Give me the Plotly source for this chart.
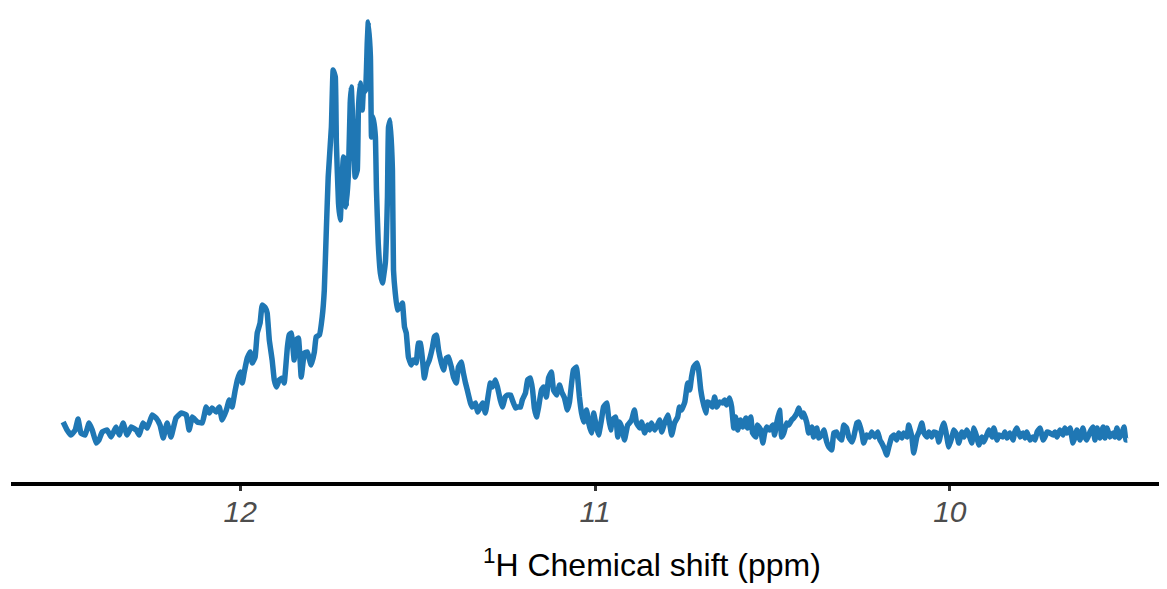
import plotly.graph_objects as go

# 1H chemical shift (ppm)
shift_ppm = [
    12.499, 12.488, 12.477, 12.465, 12.457, 12.449, 12.437, 12.426, 12.417, 12.406,
    12.398, 12.389, 12.375, 12.364, 12.350, 12.341, 12.330, 12.319, 12.307, 12.293,
    12.285, 12.274, 12.262, 12.248, 12.237, 12.226, 12.217, 12.206, 12.195, 12.181,
    12.166, 12.152, 12.144, 12.135, 12.121,
    12.107, 12.096, 12.087, 12.079, 12.068, 12.059, 12.051, 12.039, 12.031, 12.023,
    12.014, 12.008, 12.000, 11.994, 11.989, 11.980, 11.972, 11.966, 11.958, 11.952,
    11.944, 11.938, 11.929, 11.924, 11.918, 11.910, 11.904, 11.898, 11.890, 11.881,
    11.876, 11.867, 11.862, 11.856, 11.848, 11.842, 11.836, 11.828, 11.819, 11.811,
    11.800, 11.791, 11.786, 11.777, 11.769, 11.763,
    11.757, 11.752, 11.743, 11.738, 11.732, 11.729, 11.723, 11.718, 11.715, 11.709,
    11.704, 11.701, 11.695, 11.690, 11.687, 11.681, 11.676, 11.670, 11.667, 11.662,
    11.656, 11.653, 11.647, 11.642, 11.639, 11.633, 11.630, 11.625, 11.619, 11.616,
    11.611, 11.605, 11.599, 11.591, 11.585, 11.582, 11.577, 11.571, 11.568, 11.563,
    11.557, 11.549, 11.543, 11.537, 11.532, 11.526, 11.518, 11.512, 11.504, 11.498,
    11.492, 11.487, 11.481, 11.475, 11.467, 11.458, 11.453, 11.447, 11.441, 11.433,
    11.427, 11.419, 11.413, 11.405, 11.399, 11.391, 11.385, 11.377, 11.371, 11.365,
    11.360, 11.351, 11.346, 11.337, 11.331, 11.323, 11.317, 11.309, 11.303, 11.295,
    11.289, 11.281, 11.275, 11.267, 11.261, 11.253, 11.247, 11.238, 11.233, 11.224,
    11.219, 11.210, 11.205, 11.196, 11.190, 11.182, 11.176, 11.171, 11.165, 11.159,
    11.151, 11.145, 11.137, 11.131, 11.123, 11.117, 11.108,
    11.100, 11.094, 11.086, 11.078, 11.072, 11.066, 11.061, 11.052, 11.049, 11.044,
    11.038, 11.032, 11.024, 11.018, 11.010, 11.004, 10.996, 10.990, 10.982, 10.976,
    10.967, 10.962, 10.956, 10.951, 10.942, 10.936, 10.931, 10.925, 10.917, 10.908,
    10.903, 10.897, 10.889, 10.883, 10.874, 10.869, 10.860, 10.852, 10.846, 10.841,
    10.832, 10.824, 10.818, 10.812, 10.804, 10.795, 10.790, 10.784, 10.776, 10.767,
    10.762, 10.756, 10.747, 10.739, 10.733, 10.728, 10.722, 10.713, 10.708, 10.702,
    10.697, 10.688, 10.683,
    10.677, 10.669, 10.663, 10.657, 10.649, 10.640, 10.635, 10.629, 10.621, 10.615,
    10.609, 10.604, 10.598, 10.590, 10.584, 10.575, 10.570, 10.561, 10.556, 10.547,
    10.542, 10.533, 10.527, 10.522, 10.516, 10.508, 10.499, 10.494, 10.488, 10.480,
    10.474, 10.468, 10.460, 10.454, 10.446, 10.440, 10.431, 10.426, 10.417, 10.412,
    10.403, 10.398, 10.389, 10.384, 10.375, 10.370, 10.361, 10.355, 10.347, 10.341,
    10.333, 10.327, 10.319, 10.313, 10.305, 10.299, 10.291, 10.285, 10.276, 10.271,
    10.262, 10.257, 10.248, 10.243, 10.234,
    10.226, 10.220, 10.211, 10.203, 10.197, 10.192, 10.183, 10.178, 10.172, 10.164,
    10.158, 10.150, 10.144, 10.135, 10.130, 10.121, 10.116, 10.107, 10.102, 10.093,
    10.087, 10.079, 10.073, 10.065, 10.059, 10.051, 10.045, 10.037, 10.031, 10.022,
    10.017, 10.011, 10.003, 9.994, 9.989, 9.980, 9.975, 9.966, 9.960, 9.952,
    9.946, 9.938, 9.932, 9.924, 9.918, 9.910, 9.904, 9.896, 9.890, 9.881,
    9.876, 9.867, 9.862,
    9.851, 9.845, 9.839, 9.831, 9.822, 9.817, 9.811, 9.802, 9.794, 9.788,
    9.783, 9.774, 9.766, 9.760, 9.754, 9.746, 9.737, 9.732, 9.726, 9.718,
    9.709, 9.704, 9.698, 9.690, 9.681, 9.676, 9.670, 9.661, 9.653, 9.647,
    9.642, 9.633, 9.625, 9.619, 9.614, 9.605, 9.597, 9.591, 9.585, 9.577,
    9.568, 9.563, 9.557, 9.549, 9.540, 9.535, 9.529, 9.523, 9.515, 9.509,
    9.504, 9.500,
]

# signal intensity (arbitrary units)
intensity = [
    60, 52, 47, 52, 63, 49, 47, 59, 52, 39,
    42, 50, 52, 45, 55, 47, 59, 47, 55, 52,
    47, 59, 54, 67, 64, 57, 44, 59, 45, 64,
    69, 67, 52, 65, 60,
    59, 75, 69, 74, 70, 75, 62, 72, 82, 75,
    92, 102, 110, 99, 109, 124, 130, 119, 125, 149,
    159, 177, 174, 169, 142, 122, 102, 95, 102, 104,
    99, 135, 147, 149, 122, 142, 144, 105, 129, 130,
    117, 130, 145, 147, 165, 192,
    255, 305, 355, 412, 405, 339, 279, 262, 285, 325,
    322, 275, 309, 379, 395, 345, 305, 312, 372, 399,
    372, 389, 392, 439, 460, 425, 345, 365, 345, 292,
    239, 209, 199, 219, 285, 355, 362, 312, 212, 189,
    172, 175, 179, 155, 149, 125, 117, 122, 119, 139,
    139, 125, 104, 115, 122, 135, 145, 147, 132, 119,
    112, 124, 125, 115, 105, 99, 115, 120, 109, 99,
    92, 79, 75, 79, 70, 75, 79, 69, 82, 99,
    95, 102, 95, 82, 75, 85, 87, 87, 82, 74,
    75, 75, 82, 89, 102, 104, 92, 74, 65, 75,
    92, 95, 85, 104, 110, 92, 87,
    97, 90, 84, 72, 80, 99, 112, 115, 105, 85,
    69, 60, 72, 59, 49, 69, 55, 47, 62, 75,
    79, 65, 52, 62, 65, 45, 60, 55, 42, 57,
    59, 62, 72, 59, 54, 60, 49, 57, 52, 59,
    52, 57, 62, 50, 59, 67, 59, 47, 59, 65,
    75, 72, 80, 99, 92, 105, 115, 119, 112, 92,
    82, 69, 80,
    79, 75, 85, 75, 80, 79, 82, 77, 84, 75,
    54, 65, 52, 62, 55, 64, 54, 65, 49, 45,
    57, 52, 39, 49, 55, 52, 57, 47, 59, 72,
    45, 49, 59, 57, 62, 64, 69, 74, 65, 69,
    59, 49, 55, 45, 54, 44, 47, 52, 40, 35,
    32, 49, 50, 45, 42, 57, 54, 45, 40, 45,
    59, 60, 49, 39, 47,
    45, 50, 45, 50, 42, 39, 32, 27, 35, 45,
    47, 42, 49, 44, 49, 45, 57, 45, 29, 45,
    50, 59, 49, 45, 50, 45, 50, 49, 40, 54,
    59, 50, 35, 45, 52, 47, 39, 50, 45, 52,
    47, 39, 54, 45, 37, 45, 40, 47, 52, 45,
    54, 42, 47,
    45, 50, 44, 49, 42, 50, 54, 45, 49, 44,
    50, 42, 45, 42, 50, 54, 42, 45, 50, 49,
    47, 50, 45, 52, 47, 54, 49, 54, 39, 45,
    52, 42, 54, 45, 42, 50, 55, 42, 54, 44,
    55, 44, 54, 45, 49, 45, 54, 44, 49, 55,
    42, 42,
]

tick_values = [12, 11, 10]
tick_labels = ["12", "11", "10"]
x_title = "<sup>1</sup>H Chemical shift (ppm)"

FONT = "Liberation Sans, Arial, sans-serif"

fig = go.Figure()
fig.add_trace(go.Scatter(
    x=shift_ppm, y=intensity, mode="lines",
    line=dict(color="#1f77b4", width=5.5, shape="spline", smoothing=0.3),
    hoverinfo="x+y", showlegend=False,
))

fig.update_layout(
    width=1159, height=581,
    margin=dict(l=3, r=0, t=2, b=107, autoexpand=False),
    paper_bgcolor="white", plot_bgcolor="white",
    font=dict(family=FONT, color="black"),
    xaxis=dict(
        range=[12.646, 9.388],
        tickmode="array", tickvals=tick_values, ticktext=tick_labels,
        showgrid=False, zeroline=False,
        showline=True, linecolor="black", linewidth=4,
        ticks="outside", ticklen=5, tickwidth=3, tickcolor="#333333",
        tickfont=dict(size=30, color="#4d4d4d", style="italic", family=FONT),
        ticklabelstandoff=-5,
        automargin=False,
    ),
    yaxis=dict(range=[0, 472], visible=False, showgrid=False, zeroline=False),
    annotations=[dict(
        text=x_title, xref="paper", yref="paper",
        x=0.5545, y=-0.172, xanchor="center", yanchor="middle",
        showarrow=False, font=dict(size=32, color="black", family=FONT),
    )],
)

fig.write_html("out.html")
